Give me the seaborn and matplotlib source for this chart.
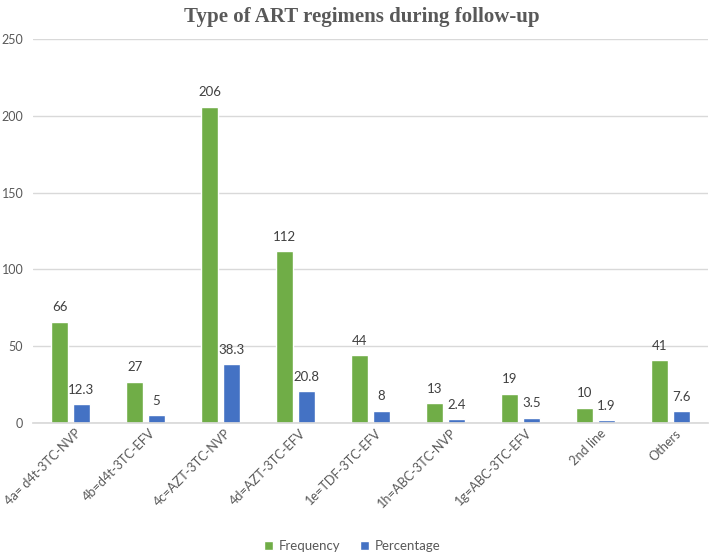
import matplotlib
matplotlib.use("Agg")
import matplotlib.pyplot as plt
import matplotlib.transforms as mtransforms
import seaborn as sns
import pandas as pd

categories = ["4a= d4t-3TC-NVP", "4b=d4t-3TC-EFV", "4c=AZT-3TC-NVP", "4d=AZT-3TC-EFV",
              "1e=TDF-3TC-EFV", "1h=ABC-3TC-NVP", "1g=ABC-3TC-EFV", "2nd line", "Others"]
frequency = [66, 27, 206, 112, 44, 13, 19, 10, 41]
percentage = [12.3, 5, 38.3, 20.8, 8, 2.4, 3.5, 1.9, 7.6]
series_names = ["Frequency", "Percentage"]

df = pd.DataFrame({
    "Regimen": categories * 2,
    "Series": [series_names[0]] * len(categories) + [series_names[1]] * len(categories),
    "Value": frequency + percentage,
})

sns.set_theme(style="white")
plt.rcParams["font.family"] = ["Lato", "DejaVu Sans"]
TXT = "#595959"

fig = plt.figure(figsize=(7.09, 5.53), dpi=100)
ax = fig.add_axes([33 / 709, 1 - 423 / 553, 675 / 709, (423 - 39) / 553])

sns.barplot(data=df, x="Regimen", y="Value", hue="Series", order=categories,
            hue_order=series_names, palette=["#70AD47", "#4472C4"],
            width=0.58, gap=0.2, ax=ax, saturation=1)

ax.set_ylim(0, 250)
ax.set_yticks([0, 50, 100, 150, 200, 250])
ax.grid(axis="y", color="#D9D9D9", linewidth=1)
ax.set_axisbelow(True)
for s in ["top", "right", "left"]:
    ax.spines[s].set_visible(False)
ax.spines["bottom"].set_color("#D9D9D9")
ax.set_xlabel("")
ax.set_ylabel("")
ax.tick_params(axis="y", length=0, labelsize=9, labelcolor=TXT, pad=7)
ax.tick_params(axis="x", length=0, labelsize=9.2, labelcolor=TXT, pad=3)
shift = mtransforms.ScaledTranslation(4 / 100, 0, fig.dpi_scale_trans)
for lbl in ax.get_xticklabels():
    lbl.set_rotation(45)
    lbl.set_ha("right")
    lbl.set_rotation_mode("anchor")
    lbl.set_transform(lbl.get_transform() + shift)

for cont in ax.containers:
    ax.bar_label(cont, labels=[f"{v:g}" for v in cont.datavalues], padding=6,
                 fontsize=9.5, color="#404040")

ax.set_title("Type of ART regimens during follow-up", fontsize=15, fontweight="bold",
             family="Liberation Serif", color=TXT, x=(362 - 33) / 675, y=1.0, pad=12)

sns.move_legend(ax, "center", bbox_to_anchor=((352 - 33) / 675, (423 - 546) / 384),
                ncol=2, frameon=False, title=None, fontsize=9.5, handlelength=0.7,
                handleheight=0.7, handletextpad=0.4, columnspacing=1.5)
leg = ax.get_legend()
for t in leg.get_texts():
    t.set_color(TXT)

fig.savefig("out.png", dpi=100)
